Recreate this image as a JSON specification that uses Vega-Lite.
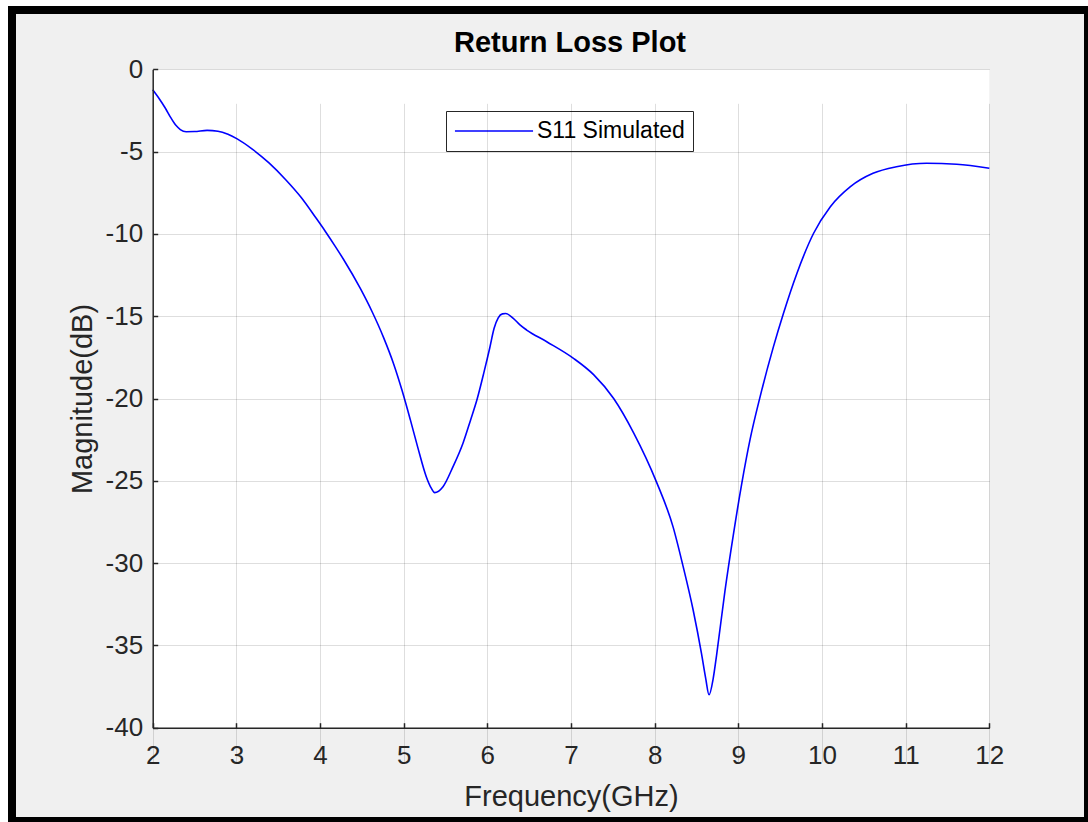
{
  "$schema": "https://vega.github.io/schema/vega-lite/v6.json",
  "autosize": "none",
  "width": 1076,
  "height": 811,
  "padding": {"left": 12, "top": 10, "right": 0, "bottom": 1},
  "background": "#ffffff",
  "title": {
    "text": "Return Loss Plot",
    "font": "Liberation Sans",
    "fontSize": 29,
    "fontWeight": "bold",
    "color": "#000000",
    "anchor": "middle",
    "frame": "group",
    "baseline": "alphabetic",
    "offset": -45,
    "dy": 26,
    "dx": 20
  },
  "config": {
    "view": {"fill": "#f0f0f0", "stroke": "#000000", "strokeWidth": 8},
    "axis": {
      "labelFont": "Liberation Sans",
      "titleFont": "Liberation Sans",
      "labelFontSize": 26,
      "titleFontSize": 29,
      "titleFontWeight": "normal",
      "labelColor": "#262626",
      "titleColor": "#262626",
      "domainColor": "#262626",
      "domainWidth": 1.5,
      "tickColor": "#262626",
      "tickSize": -5,
      "tickWidth": 1.5,
      "grid": true,
      "gridColor": "#000000",
      "gridOpacity": 0.13,
      "gridWidth": 1,
      "labelFlush": false,
      "labelOverlap": false,
      "labelBound": false,
      "zindex": 1
    },
    "legend": {
      "labelFont": "Liberation Sans",
      "labelFontSize": 23,
      "labelColor": "#000000"
    }
  },
  "layer": [
    {
      "data": {"values": [{}]},
      "mark": {"type": "rect", "fill": "#ffffff", "stroke": null},
      "encoding": {
        "x": {"datum": 2, "type": "quantitative"},
        "x2": {"datum": 12},
        "y": {"datum": 0, "type": "quantitative"},
        "y2": {"datum": -40}
      }
    },
    {
      "data": {
        "values": [
          {"freq": 2.00, "s11": -1.24, "series": "S11 Simulated"},
          {"freq": 2.08, "s11": -1.8, "series": "S11 Simulated"},
          {"freq": 2.15, "s11": -2.35, "series": "S11 Simulated"},
          {"freq": 2.22, "s11": -2.97, "series": "S11 Simulated"},
          {"freq": 2.28, "s11": -3.42, "series": "S11 Simulated"},
          {"freq": 2.33, "s11": -3.66, "series": "S11 Simulated"},
          {"freq": 2.40, "s11": -3.79, "series": "S11 Simulated"},
          {"freq": 2.50, "s11": -3.78, "series": "S11 Simulated"},
          {"freq": 2.65, "s11": -3.71, "series": "S11 Simulated"},
          {"freq": 2.78, "s11": -3.76, "series": "S11 Simulated"},
          {"freq": 2.90, "s11": -3.95, "series": "S11 Simulated"},
          {"freq": 3.01, "s11": -4.23, "series": "S11 Simulated"},
          {"freq": 3.19, "s11": -4.85, "series": "S11 Simulated"},
          {"freq": 3.39, "s11": -5.69, "series": "S11 Simulated"},
          {"freq": 3.59, "s11": -6.71, "series": "S11 Simulated"},
          {"freq": 3.78, "s11": -7.82, "series": "S11 Simulated"},
          {"freq": 3.95, "s11": -9.02, "series": "S11 Simulated"},
          {"freq": 4.06, "s11": -9.82, "series": "S11 Simulated"},
          {"freq": 4.18, "s11": -10.74, "series": "S11 Simulated"},
          {"freq": 4.28, "s11": -11.54, "series": "S11 Simulated"},
          {"freq": 4.48, "s11": -13.3, "series": "S11 Simulated"},
          {"freq": 4.62, "s11": -14.7, "series": "S11 Simulated"},
          {"freq": 4.76, "s11": -16.3, "series": "S11 Simulated"},
          {"freq": 4.88, "s11": -17.9, "series": "S11 Simulated"},
          {"freq": 4.98, "s11": -19.5, "series": "S11 Simulated"},
          {"freq": 5.08, "s11": -21.3, "series": "S11 Simulated"},
          {"freq": 5.17, "s11": -23.0, "series": "S11 Simulated"},
          {"freq": 5.27, "s11": -24.75, "series": "S11 Simulated"},
          {"freq": 5.33, "s11": -25.45, "series": "S11 Simulated"},
          {"freq": 5.37, "s11": -25.72, "series": "S11 Simulated"},
          {"freq": 5.47, "s11": -25.36, "series": "S11 Simulated"},
          {"freq": 5.59, "s11": -24.14, "series": "S11 Simulated"},
          {"freq": 5.71, "s11": -22.7, "series": "S11 Simulated"},
          {"freq": 5.80, "s11": -21.3, "series": "S11 Simulated"},
          {"freq": 5.88, "s11": -20.0, "series": "S11 Simulated"},
          {"freq": 5.96, "s11": -18.4, "series": "S11 Simulated"},
          {"freq": 6.03, "s11": -16.9, "series": "S11 Simulated"},
          {"freq": 6.08, "s11": -15.75, "series": "S11 Simulated"},
          {"freq": 6.13, "s11": -15.1, "series": "S11 Simulated"},
          {"freq": 6.18, "s11": -14.86, "series": "S11 Simulated"},
          {"freq": 6.22, "s11": -14.84, "series": "S11 Simulated"},
          {"freq": 6.31, "s11": -15.13, "series": "S11 Simulated"},
          {"freq": 6.39, "s11": -15.53, "series": "S11 Simulated"},
          {"freq": 6.47, "s11": -15.84, "series": "S11 Simulated"},
          {"freq": 6.71, "s11": -16.55, "series": "S11 Simulated"},
          {"freq": 7.03, "s11": -17.56, "series": "S11 Simulated"},
          {"freq": 7.27, "s11": -18.55, "series": "S11 Simulated"},
          {"freq": 7.51, "s11": -20.0, "series": "S11 Simulated"},
          {"freq": 7.75, "s11": -22.1, "series": "S11 Simulated"},
          {"freq": 8.02, "s11": -25.05, "series": "S11 Simulated"},
          {"freq": 8.22, "s11": -27.8, "series": "S11 Simulated"},
          {"freq": 8.34, "s11": -30.2, "series": "S11 Simulated"},
          {"freq": 8.46, "s11": -32.85, "series": "S11 Simulated"},
          {"freq": 8.56, "s11": -35.5, "series": "S11 Simulated"},
          {"freq": 8.61, "s11": -37.0, "series": "S11 Simulated"},
          {"freq": 8.65, "s11": -38.0, "series": "S11 Simulated"},
          {"freq": 8.70, "s11": -37.0, "series": "S11 Simulated"},
          {"freq": 8.74, "s11": -35.6, "series": "S11 Simulated"},
          {"freq": 8.84, "s11": -31.7, "series": "S11 Simulated"},
          {"freq": 8.94, "s11": -28.3, "series": "S11 Simulated"},
          {"freq": 9.04, "s11": -25.2, "series": "S11 Simulated"},
          {"freq": 9.14, "s11": -22.5, "series": "S11 Simulated"},
          {"freq": 9.26, "s11": -19.9, "series": "S11 Simulated"},
          {"freq": 9.42, "s11": -16.85, "series": "S11 Simulated"},
          {"freq": 9.54, "s11": -14.82, "series": "S11 Simulated"},
          {"freq": 9.70, "s11": -12.4, "series": "S11 Simulated"},
          {"freq": 9.90, "s11": -9.96, "series": "S11 Simulated"},
          {"freq": 10.10, "s11": -8.35, "series": "S11 Simulated"},
          {"freq": 10.34, "s11": -7.13, "series": "S11 Simulated"},
          {"freq": 10.61, "s11": -6.32, "series": "S11 Simulated"},
          {"freq": 10.89, "s11": -5.92, "series": "S11 Simulated"},
          {"freq": 11.25, "s11": -5.71, "series": "S11 Simulated"},
          {"freq": 11.61, "s11": -5.77, "series": "S11 Simulated"},
          {"freq": 12.00, "s11": -6.01, "series": "S11 Simulated"}
        ]
      },
      "mark": {"type": "line", "interpolate": "monotone", "strokeWidth": 1.6},
      "encoding": {
        "x": {
          "field": "freq",
          "type": "quantitative",
          "scale": {"domain": [2, 12], "range": [140.7, 977.3], "nice": false, "zero": false},
          "axis": {
            "title": "Frequency(GHz)",
            "values": [2, 3, 4, 5, 6, 7, 8, 9, 10, 11, 12],
            "labelExpr": "datum.value + ''",
            "grid": true,
            "zindex": 1,
            "offset": -93.3,
            "labelPadding": 20,
            "titlePadding": 14
          }
        },
        "y": {
          "field": "s11",
          "type": "quantitative",
          "scale": {"domain": [-40, 0], "range": [717.7, 59.3], "nice": false, "zero": false},
          "axis": {
            "title": "Magnitude(dB)",
            "values": [-40, -35, -30, -25, -20, -15, -10, -5, 0],
            "labelExpr": "datum.value + ''",
            "grid": true,
            "zindex": 1,
            "offset": -140.7,
            "labelPadding": 15,
            "titlePadding": 8
          }
        },
        "color": {
          "field": "series",
          "type": "nominal",
          "scale": {"range": ["#0000ff"]},
          "legend": {
            "title": null,
            "orient": "none",
            "legendX": 434,
            "legendY": 101,
            "strokeColor": "#262626",
            "fillColor": "#ffffff",
            "padding": 8,
            "symbolType": "M-3.55,0H3.55",
            "symbolSize": 484,
            "symbolOffset": 28,
            "symbolStrokeWidth": 1.6,
            "symbolStrokeColor": "#0000ff",
            "symbolFillColor": "transparent",
            "labelOffset": 31
          }
        }
      }
    }
  ]
}
